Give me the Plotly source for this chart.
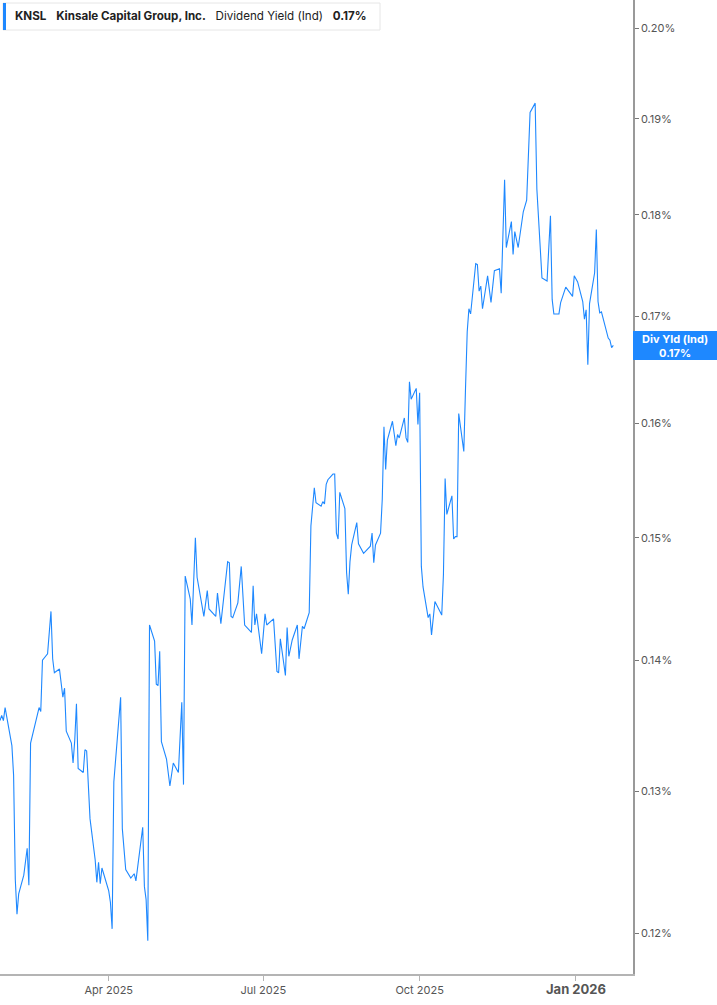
import plotly.graph_objects as go

# KNSL dividend yield (indicated), values in percent
dates = [
    "2025-01-27", "2025-01-28", "2025-01-29", "2025-01-30", "2025-02-03", "2025-02-04",
    "2025-02-05", "2025-02-06", "2025-02-07", "2025-02-10", "2025-02-12", "2025-02-13",
    "2025-02-14", "2025-02-19", "2025-02-20", "2025-02-21", "2025-02-24", "2025-02-26",
    "2025-02-27", "2025-02-28", "2025-03-03", "2025-03-04", "2025-03-05", "2025-03-06",
    "2025-03-07", "2025-03-10", "2025-03-11", "2025-03-12", "2025-03-13", "2025-03-14",
    "2025-03-17", "2025-03-18", "2025-03-19", "2025-03-21", "2025-03-24", "2025-03-25",
    "2025-03-26", "2025-03-27", "2025-03-28", "2025-04-01", "2025-04-02", "2025-04-03",
    "2025-04-04", "2025-04-08", "2025-04-09", "2025-04-11", "2025-04-14", "2025-04-16",
    "2025-04-17", "2025-04-21", "2025-04-22", "2025-04-23", "2025-04-24", "2025-04-25",
    "2025-04-28", "2025-04-29", "2025-04-30", "2025-05-01", "2025-05-02", "2025-05-05",
    "2025-05-07", "2025-05-09", "2025-05-12", "2025-05-14", "2025-05-15", "2025-05-16",
    "2025-05-19", "2025-05-20", "2025-05-22", "2025-05-23", "2025-05-27", "2025-05-29",
    "2025-05-30", "2025-06-03", "2025-06-04", "2025-06-06", "2025-06-10", "2025-06-11",
    "2025-06-12", "2025-06-13", "2025-06-16", "2025-06-18", "2025-06-20", "2025-06-24",
    "2025-06-25", "2025-06-26", "2025-06-27", "2025-06-30", "2025-07-02", "2025-07-03",
    "2025-07-07", "2025-07-09", "2025-07-10", "2025-07-11", "2025-07-14", "2025-07-15",
    "2025-07-16", "2025-07-18", "2025-07-21", "2025-07-22", "2025-07-24", "2025-07-25",
    "2025-07-28", "2025-07-29", "2025-07-31", "2025-08-01", "2025-08-04", "2025-08-05",
    "2025-08-06", "2025-08-07", "2025-08-08", "2025-08-11", "2025-08-12", "2025-08-13",
    "2025-08-14", "2025-08-15", "2025-08-18", "2025-08-19", "2025-08-20", "2025-08-21",
    "2025-08-22", "2025-08-25", "2025-08-26", "2025-08-29", "2025-09-02", "2025-09-03",
    "2025-09-04", "2025-09-05", "2025-09-08", "2025-09-09", "2025-09-10", "2025-09-11",
    "2025-09-12", "2025-09-15", "2025-09-17", "2025-09-18", "2025-09-19", "2025-09-22",
    "2025-09-23", "2025-09-24", "2025-09-25", "2025-09-26", "2025-09-29", "2025-09-30",
    "2025-10-01", "2025-10-02", "2025-10-03", "2025-10-06", "2025-10-07", "2025-10-08",
    "2025-10-10", "2025-10-14", "2025-10-15", "2025-10-16", "2025-10-17", "2025-10-20",
    "2025-10-21", "2025-10-22", "2025-10-23", "2025-10-24", "2025-10-27", "2025-10-28",
    "2025-10-29", "2025-10-30", "2025-10-31", "2025-11-03", "2025-11-04", "2025-11-05",
    "2025-11-06", "2025-11-07", "2025-11-10", "2025-11-12", "2025-11-14", "2025-11-17",
    "2025-11-18", "2025-11-20", "2025-11-21", "2025-11-24", "2025-11-25", "2025-11-26",
    "2025-11-28", "2025-12-01", "2025-12-03", "2025-12-05", "2025-12-08", "2025-12-09",
    "2025-12-12", "2025-12-15", "2025-12-17", "2025-12-18", "2025-12-19", "2025-12-22",
    "2025-12-23", "2025-12-26", "2025-12-30", "2025-12-31", "2026-01-02", "2026-01-05",
    "2026-01-06", "2026-01-07", "2026-01-08", "2026-01-09", "2026-01-12", "2026-01-13",
    "2026-01-14", "2026-01-15", "2026-01-16", "2026-01-20", "2026-01-21", "2026-01-22",
    "2026-01-23",
]
div_yield = [
    0.1353, 0.1357, 0.1353, 0.1363, 0.1334, 0.1312,
    0.1237, 0.1213, 0.1227, 0.1240, 0.1259, 0.1233,
    0.1336, 0.1363, 0.1360, 0.1400, 0.1405, 0.1439,
    0.1401, 0.1390, 0.1393, 0.1381, 0.1371, 0.1378,
    0.1345, 0.1336, 0.1321, 0.1338, 0.1366, 0.1317,
    0.1314, 0.1331, 0.1330, 0.1280, 0.1251, 0.1235,
    0.1249, 0.1234, 0.1245, 0.1229, 0.1221, 0.1203,
    0.1307, 0.1371, 0.1273, 0.1244, 0.1238, 0.1241,
    0.1236, 0.1274, 0.1232, 0.1223, 0.1195, 0.1428,
    0.1415, 0.1381, 0.1380, 0.1407, 0.1337, 0.1324,
    0.1304, 0.1321, 0.1314, 0.1367, 0.1305, 0.1468,
    0.1449, 0.1428, 0.1500, 0.1467, 0.1435, 0.1456,
    0.1441, 0.1435, 0.1454, 0.1429, 0.1480, 0.1479,
    0.1435, 0.1434, 0.1446, 0.1476, 0.1428, 0.1422,
    0.1460, 0.1428, 0.1437, 0.1405, 0.1437, 0.1428,
    0.1433, 0.1391, 0.1390, 0.1417, 0.1388, 0.1426,
    0.1403, 0.1416, 0.1428, 0.1401, 0.1427, 0.1425,
    0.1438, 0.1510, 0.1543, 0.1530, 0.1527, 0.1531,
    0.1529, 0.1546, 0.1550, 0.1555, 0.1555, 0.1504,
    0.1499, 0.1539, 0.1525, 0.1471, 0.1453, 0.1480,
    0.1494, 0.1513, 0.1495, 0.1487, 0.1493, 0.1504,
    0.1479, 0.1494, 0.1504, 0.1533, 0.1597, 0.1559,
    0.1585, 0.1602, 0.1580, 0.1590, 0.1587, 0.1605,
    0.1587, 0.1583, 0.1638, 0.1622, 0.1632, 0.1599,
    0.1628, 0.1476, 0.1459, 0.1434, 0.1437, 0.1420,
    0.1447, 0.1436, 0.1469, 0.1551, 0.1520, 0.1536,
    0.1499, 0.1501, 0.1501, 0.1609, 0.1575, 0.1632,
    0.1685, 0.1707, 0.1702, 0.1751, 0.1750, 0.1724,
    0.1729, 0.1707, 0.1739, 0.1713, 0.1744, 0.1746,
    0.1722, 0.1836, 0.1767, 0.1793, 0.1760, 0.1783,
    0.1767, 0.1803, 0.1815, 0.1907, 0.1917, 0.1826,
    0.1737, 0.1734, 0.1799, 0.1716, 0.1702, 0.1702,
    0.1713, 0.1728, 0.1719, 0.1739, 0.1733, 0.1714,
    0.1697, 0.1706, 0.1654, 0.1712, 0.1742, 0.1785,
    0.1714, 0.1703, 0.1704, 0.1679, 0.1677, 0.1670,
    0.1672,
]

y_ticks = [0.12, 0.13, 0.14, 0.15, 0.16, 0.17, 0.18, 0.19, 0.20]
y_labels = ["%.2f%%" % v for v in y_ticks]
x_ticks = ["2025-04-01", "2025-07-01", "2025-10-01", "2026-01-01"]
x_labels = ["Apr 2025", "Jul 2025", "Oct 2025",
            "<span style='font-size:13px'><b>Jan 2026</b></span>"]

BLUE = "#1e88ff"
W, H = 717, 1005
L, R, T, B = 0, 84, 0, 31
pw, ph = W - L - R, H - T - B

fig = go.Figure()
fig.add_trace(go.Scatter(x=dates, y=div_yield, mode="lines",
                         line=dict(color=BLUE, width=1.1),
                         hoverinfo="skip", showlegend=False))

fig.update_layout(
    width=W, height=H,
    margin=dict(l=L, r=R, t=T, b=B),
    plot_bgcolor="white", paper_bgcolor="white",
    font=dict(family="Inter, Roboto, sans-serif", color="#555555", size=11),
    xaxis=dict(
        type="date",
        range=["2025-01-27", "2026-02-03 14:00"],
        tickvals=x_ticks, ticktext=x_labels,
        showgrid=False, zeroline=False,
        showline=True, linecolor="#b4b4b4", linewidth=2,
        ticks="outside", ticklen=5, tickcolor="#b4b4b4",
        tickfont=dict(size=11, color="#555555"),
    ),
    yaxis=dict(
        type="log", side="right",
        range=[-0.9308, -0.6921],
        tickvals=y_ticks, ticktext=y_labels,
        showgrid=False, zeroline=False,
        showline=True, linecolor="#999999", linewidth=1.5,
        ticks="outside", ticklen=4, tickcolor="#777777",
        tickfont=dict(size=11, color="#555555"),
    ),
)

# header box at top left
fig.add_shape(type="rect", xref="paper", yref="paper",
              x0=3 / pw, x1=380 / pw, y0=1 - 30 / ph, y1=1 - 3 / ph,
              line=dict(color="#e6e6e6", width=1), fillcolor="white", layer="above")
fig.add_shape(type="rect", xref="paper", yref="paper",
              x0=3 / pw, x1=6 / pw, y0=1 - 30 / ph, y1=1 - 3 / ph,
              line=dict(width=0), fillcolor=BLUE, layer="above")
fig.add_annotation(xref="paper", yref="paper", x=13 / pw, y=1 - 16.5 / ph,
                   xanchor="left", yanchor="middle", showarrow=False,
                   text="<b>KNSL</b>&nbsp;&nbsp;&nbsp;<b>Kinsale Capital Group, Inc.</b>"
                        "&nbsp;&nbsp;&nbsp;Dividend Yield (Ind)&nbsp;&nbsp;&nbsp;<b>0.17%</b>",
                   font=dict(size=11.6, color="#222222"))

# last value label on the right axis
fig.add_shape(type="rect", xref="paper", yref="paper",
              x0=1, x1=W / pw, y0=1 - 360 / ph, y1=1 - 331 / ph,
              line=dict(width=0), fillcolor=BLUE)
fig.add_annotation(xref="paper", yref="paper", x=675 / pw, y=1 - 345.5 / ph,
                   xanchor="center", yanchor="middle", showarrow=False,
                   text="<b>Div Yld (Ind)</b><br><b>%.2f%%</b>" % div_yield[-1],
                   font=dict(size=11, color="white"))

# the page has a default 8px body margin; remove it so the figure fills the window
fig.write_html("out.html", config={"displayModeBar": False},
               post_script="document.body.style.margin='0';")
